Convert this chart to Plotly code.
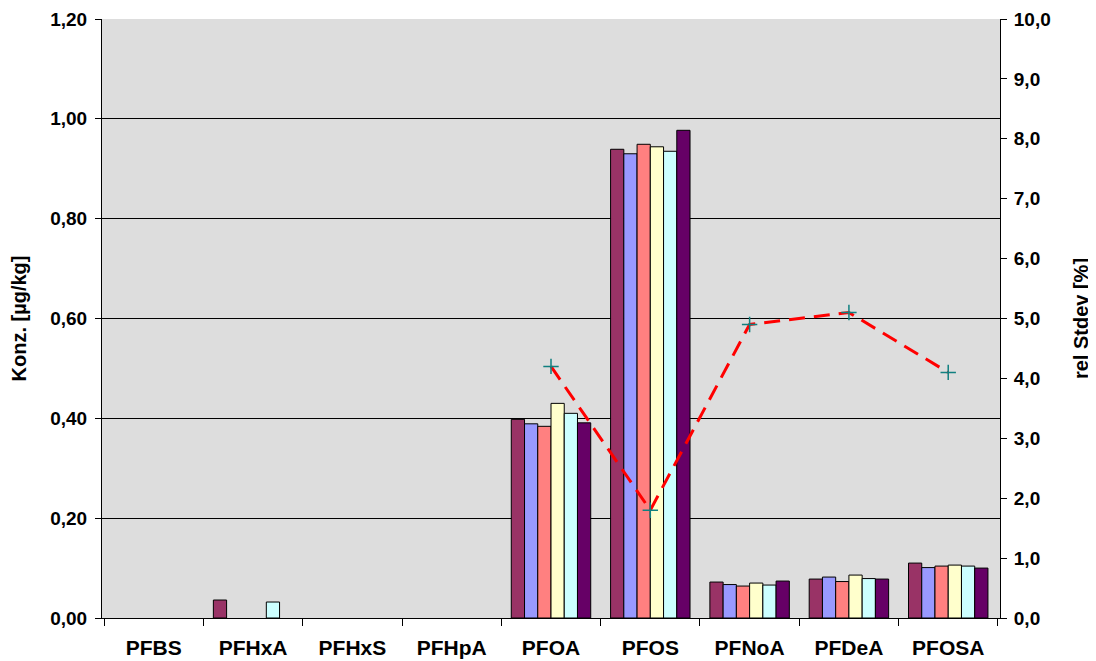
import plotly.graph_objects as go

categories = ['PFBS', 'PFHxA', 'PFHxS', 'PFHpA', 'PFOA', 'PFOS', 'PFNoA', 'PFDeA', 'PFOSA']

# concentrations [µg/kg] for six replicate samples
sample1 = [None, 0.036, None, None, 0.398, 0.939, 0.072, 0.078, 0.110]
sample2 = [None, None, None, None, 0.389, 0.930, 0.067, 0.082, 0.101]
sample3 = [None, None, None, None, 0.384, 0.949, 0.064, 0.073, 0.104]
sample4 = [None, None, None, None, 0.430, 0.944, 0.070, 0.086, 0.106]
sample5 = [None, 0.032, None, None, 0.410, 0.935, 0.066, 0.079, 0.104]
sample6 = [None, None, None, None, 0.391, 0.977, 0.074, 0.078, 0.100]

# relative standard deviation [%]
rel_stdev = [None, None, None, None, 4.2, 1.8, 4.9, 5.1, 4.1]

samples = [sample1, sample2, sample3, sample4, sample5, sample6]
colors = ['#993366', '#9999FF', '#FF8080', '#FFFFCC', '#CCFFFF', '#660066']

fig = go.Figure()

for vals, col in zip(samples, colors):
    fig.add_trace(go.Bar(
        x=categories, y=vals,
        marker=dict(color=col, line=dict(color='black', width=1)),
        showlegend=False
    ))

fig.add_trace(go.Scatter(
    x=categories, y=rel_stdev,
    yaxis='y2',
    mode='lines+markers',
    line=dict(color='#FF0000', dash='16px,9px', width=3),
    marker=dict(symbol='cross-thin', size=11, line=dict(color='#108080', width=1.5)),
    connectgaps=False,
    showlegend=False
))

tick_font = dict(family='Liberation Sans, Arial', size=19, color='black', weight='bold')
cat_font = dict(family='Liberation Sans, Arial', size=21, color='black', weight='bold')
title_font = dict(family='Liberation Sans, Arial', size=20, color='black', weight='bold')

# the page puts the figure 8px in from the top-left, margins allow for that
fig.update_layout(
    width=1096, height=661,
    margin=dict(l=94, r=104, t=11, b=51),
    paper_bgcolor='white',
    plot_bgcolor='#DDDDDD',
    separators=',.',
    barmode='group',
    bargap=0.2,
    bargroupgap=0,
    showlegend=False,
    xaxis=dict(
        tickfont=cat_font, automargin=False,
        showline=True, linecolor='black', linewidth=1,
        ticks='outside', tickson='boundaries', ticklen=7, tickcolor='black',
        ticklabelstandoff=11,
        showgrid=False
    ),
    yaxis=dict(
        range=[0, 1.2], dtick=0.2, tickformat='.2f',
        tickfont=tick_font, automargin=False,
        title=dict(text='Konz. [µg/kg]', font=title_font, standoff=18),
        showline=True, linecolor='black', linewidth=1,
        ticks='outside', ticklen=6, tickcolor='black',
        ticklabelstandoff=4,
        showgrid=True, gridcolor='#000000', gridwidth=1,
        zeroline=False
    ),
    yaxis2=dict(
        range=[0, 10], dtick=1, tickformat='.1f',
        overlaying='y', side='right',
        tickfont=tick_font, automargin=False,
        title=dict(text='rel Stdev [%]', font=title_font, standoff=24),
        showline=True, linecolor='black', linewidth=1,
        ticks='outside', ticklen=6, tickcolor='black',
        ticklabelstandoff=3,
        showgrid=False, zeroline=False
    )
)

fig.write_html("out.html")
